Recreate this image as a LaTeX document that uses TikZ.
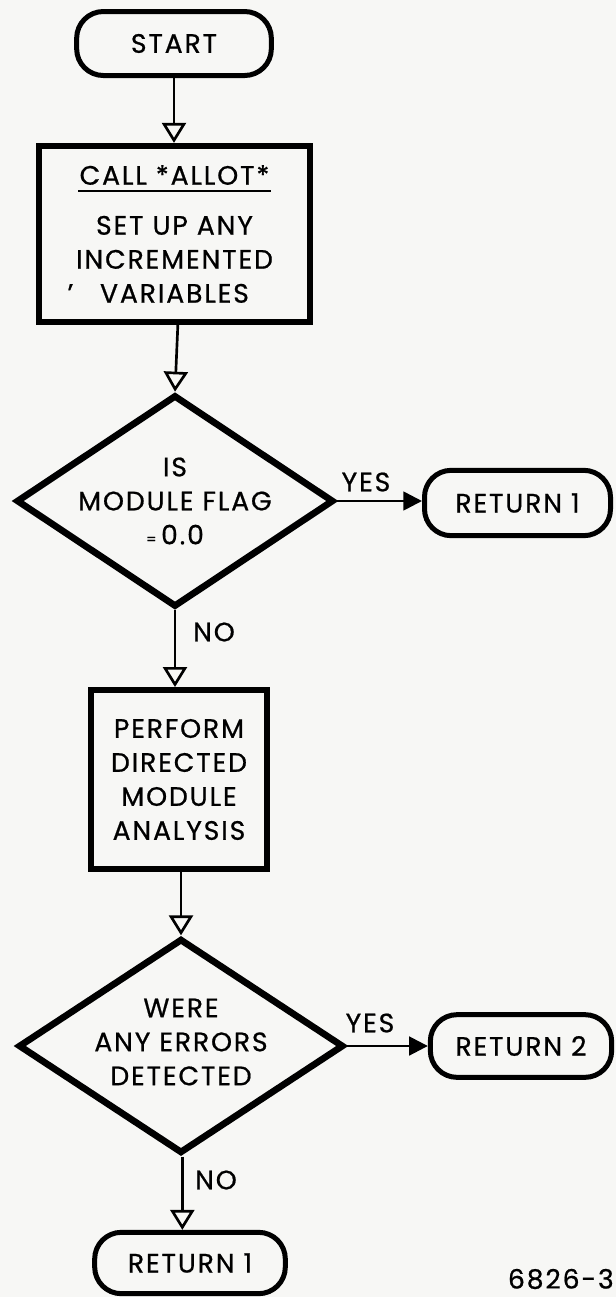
\documentclass[tikz,border=0pt]{standalone}
\usepackage{fontspec}
\setmainfont{Poppins}[LetterSpace=7,FakeBold=0.7]
\usetikzlibrary{shapes.geometric,arrows.meta}
\definecolor{paper}{RGB}{247,247,245}
\newcommand\ulcall[1]{\setbox0\hbox{#1}\rlap{\hspace{-1pt}\rule[-5.5pt]{\dimexpr\wd0+2pt\relax}{1.8pt}}\box0}
\begin{document}
\begin{tikzpicture}[x=0.75pt,y=-0.75pt,
  every node/.style={font=\fontsize{20}{25.5}\selectfont, align=center, inner sep=0pt, text=black},
  termbox/.style={draw, line width=3.75pt, rounded corners=20pt},
  procbox/.style={draw, line width=4.75pt},
  decision/.style={diamond, draw, line width=5pt},
  flow/.style={line width=2pt, -{Triangle[open,length=15pt,width=18pt]}},
  yesflow/.style={line width=2pt, -{Triangle[length=14pt,width=14pt]}}
]
\fill[paper] (0,0) rectangle (616,1297);
\useasboundingbox (0,0) rectangle (616,1297);

% nodes
\node[termbox, minimum width=146pt, minimum height=48pt] (start) at (174,43.5) {START};
\node[procbox, minimum width=203pt, minimum height=132pt] (box1) at (174.5,234)
  {\ulcall{CALL *ALLOT*}\\[12pt] SET UP ANY\\ INCREMENTED\\ \llap{'\hspace{20pt}}VARIABLES};
\node[decision, minimum width=238pt, minimum height=159pt] (d1) at (175,501) {};
\node (d1t) at (d1.center) {IS\\ MODULE FLAG\\ {\fontsize{11}{11}\selectfont =}\,0.0};
\node[termbox, minimum width=139.5pt, minimum height=49pt] (r1) at (517.5,503) {RETURN 1};
\node[procbox, minimum width=132pt, minimum height=134pt] (box2) at (179,779.5)
  {PERFORM\\ DIRECTED\\ MODULE\\ ANALYSIS};
\node[decision, minimum width=244pt, minimum height=161pt] (d2) at (181,1046) {};
\node (d2t) at ([yshift=3pt]d2.center) {WERE\\ ANY ERRORS\\ DETECTED};
\node[termbox, minimum width=136pt, minimum height=47pt] (r2) at (521,1046) {RETURN 2};
\node[termbox, minimum width=143pt, minimum height=46pt] (r3) at (190,1263) {RETURN 1};

% labels
\node (yes1) at (366,482) {YES};
\node (no1) at (214,632) {NO};
\node (yes2) at (370,1023) {YES};
\node (no2) at (216,1180) {NO};
\node[anchor=east] (fig) at (614,1279) {6826-3};

% connectors
\draw[flow] (start.south) -- (start.south |- box1.north);
\draw[flow] ([xshift=2.5pt]box1.south) -- (d1.north);
\draw[flow] (d1.south) -- (d1.south |- box2.north);
\draw[flow] ([xshift=1.5pt]box2.south) -- (d2.north);
\draw[flow] ([xshift=1pt]d2.south) -- ([xshift=1pt]d2.south |- r3.north);
\draw[yesflow] (d1.east) -- (d1.east -| r1.west);
\draw[yesflow] (d2.east) -- (d2.east -| r2.west);
\end{tikzpicture}
\end{document}
